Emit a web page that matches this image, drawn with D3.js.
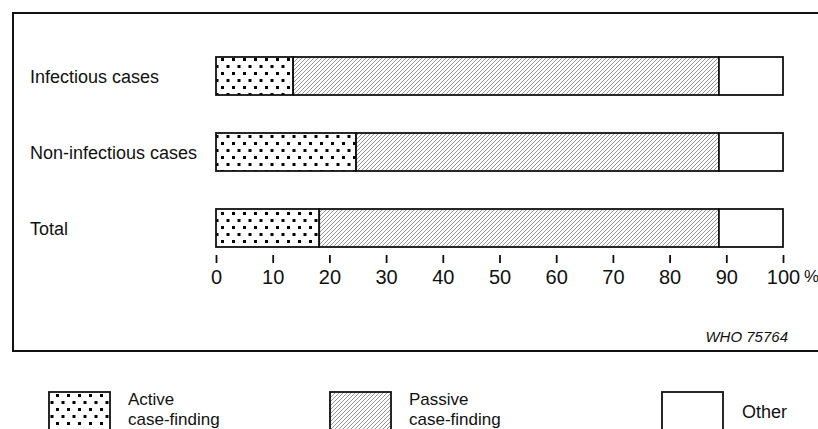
<!DOCTYPE html>
<html><head><meta charset="utf-8">
<script src="https://cdn.jsdelivr.net/npm/d3@7"></script>
<style>body{margin:0;background:#fff}svg{display:block;font-family:"Liberation Sans",Arial,sans-serif}</style>
</head><body><svg id="c" width="818" height="429"></svg>
<script>
const categories = ["Infectious cases","Non-infectious cases","Total"];
const active = [13.6, 24.7, 18.2];
const passive = [75.1, 64.0, 70.5];
const other = [11.3, 11.3, 11.3];
const ticks = [0,10,20,30,40,50,60,70,80,90,100];
const seriesNames = ["Active\ncase-finding","Passive\ncase-finding","Other"];

const svg = d3.select("#c");
const defs = svg.append("defs");
const dots = defs.append("pattern").attr("id","dots").attr("patternUnits","userSpaceOnUse")
  .attr("width",11).attr("height",14);
dots.append("rect").attr("width",11).attr("height",14).attr("fill","#fff");
dots.append("rect").attr("x",1).attr("y",2).attr("width",3).attr("height",3).attr("fill","#000");
dots.append("rect").attr("x",6.5).attr("y",9).attr("width",3).attr("height",3).attr("fill","#000");
const hatch = defs.append("pattern").attr("id","hatch").attr("patternUnits","userSpaceOnUse")
  .attr("width",4).attr("height",4);
hatch.append("rect").attr("width",4).attr("height",4).attr("fill","#fff");
hatch.append("path").attr("d","M-1,1 l2,-2 M0,4 l4,-4 M3,5 l2,-2").attr("stroke","#777").attr("stroke-width",0.8);
const fills = ["url(#dots)","url(#hatch)","#fff"];

// frame
svg.append("path").attr("d","M820,13 H13 V351 H820").attr("fill","none").attr("stroke","#111").attr("stroke-width",2);

const x = d3.scaleLinear().domain([0,100]).range([216,783]);
const y = d3.scaleBand().domain(categories).range([38,266]).paddingInner(0.5).paddingOuter(0.25);

const data = categories.map((c,i)=>({c, v:[active[i],passive[i],other[i]]}));
data.forEach(d=>{
  let acc=0;
  d.v.forEach((v,k)=>{
    svg.append("rect").attr("x",x(acc)).attr("y",y(d.c)).attr("width",x(acc+v)-x(acc)).attr("height",y.bandwidth())
      .attr("fill",fills[k]).attr("stroke","#111").attr("stroke-width",1.8);
    acc+=v;
  });
  svg.append("text").attr("x",30).attr("y",y(d.c)+y.bandwidth()/2+6.5).attr("font-size",18).attr("fill","#111").text(d.c);
});

const axis = d3.axisBottom(x).tickValues(ticks).tickSize(8).tickPadding(7).tickFormat(d=>d);
const g = svg.append("g").attr("transform","translate(0,255)").call(axis);
g.select(".domain").remove();
g.selectAll(".tick line").attr("stroke","#111").attr("stroke-width",1.8);
g.selectAll(".tick text").attr("font-size",20).attr("fill","#111").attr("font-family","Liberation Sans, Arial, sans-serif");
svg.append("text").attr("x",804).attr("y",282).attr("font-size",17).attr("fill","#111").text("%");

svg.append("text").attr("x",788).attr("y",342).attr("text-anchor","end").attr("font-size",15).attr("font-style","italic").attr("fill","#111").text("WHO 75764");

// legend
const lx = [49,330,662];
seriesNames.forEach((n,k)=>{
  svg.append("rect").attr("x",lx[k]).attr("y",392).attr("width",61).attr("height",45)
    .attr("fill",fills[k]).attr("stroke","#111").attr("stroke-width",1.8);
  const lines = n.split("\n");
  if(lines.length==2){
    svg.append("text").attr("x",lx[k]+79).attr("y",405).attr("font-size",17).attr("fill","#111").text(lines[0]);
    svg.append("text").attr("x",lx[k]+79).attr("y",425).attr("font-size",17).attr("fill","#111").text(lines[1]);
  } else {
    svg.append("text").attr("x",lx[k]+80).attr("y",418).attr("font-size",18).attr("fill","#111").text(lines[0]);
  }
});
</script></body></html>
